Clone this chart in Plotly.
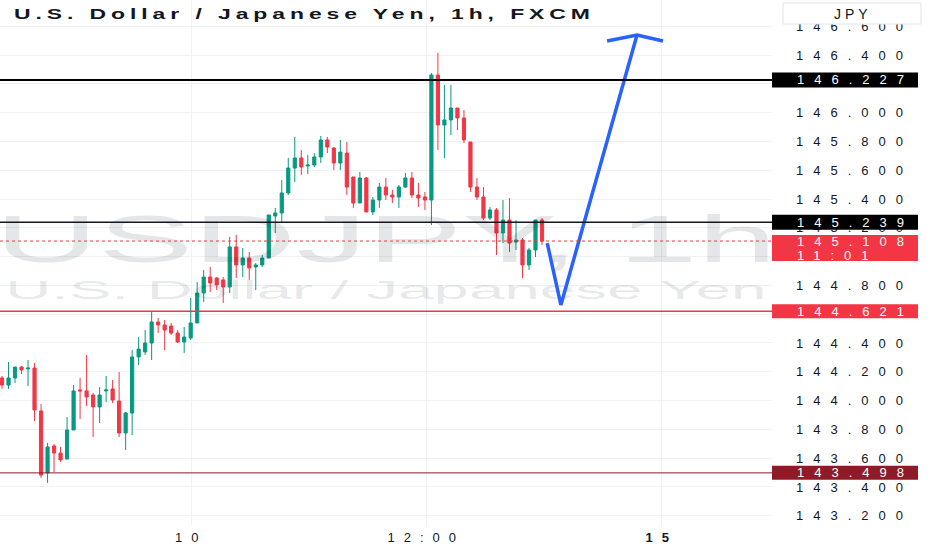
import plotly.graph_objects as go

# ---------------- data ----------------
bar_index = list(range(84))
open_ = [144.157, 144.108, 144.157, 144.233, 144.220, 144.226, 143.928, 143.497, 143.685, 143.636,
         143.594, 143.796, 144.074, 144.067, 144.039, 143.956, 144.067, 144.081, 143.997, 143.775,
         143.914, 144.303, 144.338, 144.400, 144.546, 144.525, 144.518, 144.469, 144.407, 144.435,
         144.539, 144.747, 144.858, 144.851, 144.838, 144.789, 145.067, 144.942, 144.990, 144.928,
         144.942, 144.990, 145.282, 145.303, 145.442, 145.615, 145.685, 145.629, 145.636, 145.692,
         145.810, 145.754, 145.650, 145.719, 145.553, 145.372, 145.546, 145.310, 145.393, 145.483,
         145.428, 145.414, 145.483, 145.546, 145.428, 145.414, 145.393, 146.261, 145.914, 145.949,
         146.032, 145.963, 145.796, 145.483, 145.414, 145.268, 145.324, 145.164, 145.254, 145.101,
         145.115, 144.942, 145.046, 145.254]
high = [144.171, 144.268, 144.233, 144.240, 144.282, 144.261, 143.976, 143.706, 143.699, 143.678,
        143.886, 144.108, 144.157, 144.317, 144.053, 144.094, 144.171, 144.143, 144.199, 143.921,
        144.351, 144.442, 144.490, 144.615, 144.574, 144.560, 144.539, 144.490, 144.511, 144.713,
        144.824, 144.907, 144.928, 144.858, 144.858, 145.136, 145.150, 145.060, 145.032, 144.956,
        145.011, 145.289, 145.338, 145.532, 145.685, 145.831, 145.740, 145.706, 145.719, 145.838,
        145.831, 145.761, 145.810, 145.796, 145.553, 145.588, 145.553, 145.414, 145.511, 145.546,
        145.463, 145.497, 145.581, 145.588, 145.511, 145.449, 146.275, 146.414, 146.192, 146.192,
        146.032, 146.018, 145.796, 145.546, 145.483, 145.344, 145.338, 145.393, 145.407, 145.254,
        145.129, 145.060, 145.254, 145.268]
low = [144.081, 144.081, 144.122, 144.185, 144.101, 143.858, 143.463, 143.428, 143.504, 143.574,
       143.594, 143.796, 143.872, 143.963, 143.747, 143.844, 143.990, 143.983, 143.747, 143.657,
       143.761, 144.247, 144.317, 144.282, 144.469, 144.351, 144.456, 144.400, 144.331, 144.421,
       144.539, 144.685, 144.754, 144.768, 144.678, 144.747, 144.851, 144.858, 144.838, 144.768,
       144.928, 144.990, 145.164, 145.240, 145.428, 145.518, 145.567, 145.574, 145.622, 145.650,
       145.719, 145.601, 145.601, 145.428, 145.338, 145.372, 145.310, 145.289, 145.338, 145.393,
       145.372, 145.338, 145.476, 145.407, 145.344, 145.324, 145.219, 145.740, 145.685, 145.844,
       145.879, 145.789, 145.449, 145.393, 145.254, 145.254, 145.011, 145.094, 145.032, 145.046,
       144.851, 144.907, 144.997, 145.081]
close = [144.108, 144.157, 144.233, 144.213, 144.226, 143.935, 143.483, 143.678, 143.636, 143.588,
         143.796, 144.067, 144.067, 144.025, 143.956, 144.039, 144.074, 144.004, 143.775, 143.914,
         144.303, 144.358, 144.400, 144.546, 144.525, 144.490, 144.469, 144.407, 144.442, 144.539,
         144.747, 144.858, 144.817, 144.803, 144.789, 145.067, 144.942, 144.990, 144.921, 144.942,
         144.990, 145.289, 145.303, 145.442, 145.615, 145.685, 145.622, 145.636, 145.692, 145.810,
         145.761, 145.650, 145.726, 145.483, 145.372, 145.546, 145.310, 145.393, 145.483, 145.428,
         145.414, 145.483, 145.546, 145.428, 145.407, 145.393, 146.261, 145.914, 145.949, 146.032,
         145.963, 145.810, 145.483, 145.414, 145.268, 145.324, 145.164, 145.254, 145.094, 145.115,
         144.942, 145.046, 145.254, 145.108]

# horizontal levels drawn on the chart
level_black_top = 146.227
level_black_mid = 145.239
level_red = 144.621
level_darkred = 143.498
last_price = 145.108
countdown = "11:01"

# hand-drawn forecast path (bar index, price)
path_t = [83.8, 85.9, 97.6]
path_p = [145.094, 144.664, 146.539]
head_t = [93.0, 97.6, 101.6]
head_p = [146.497, 146.539, 146.497]

# axes (labels hidden behind the level tags are left blank, as in the reference)
price_ticks = [143.2, 143.4, 143.6, 143.8, 144.0, 144.2, 144.4, 144.6, 144.8, 145.0,
               145.2, 145.4, 145.6, 145.8, 146.0, 146.2, 146.4, 146.6]
covered_ticks = [144.6, 145.0, 146.2]
price_tick_labels = ["" if v in covered_ticks else f"{v:.3f}" for v in price_ticks]
time_tick_pos = [29.1, 65.2, 101.4]
time_tick_labels = ["10", "12:00", "<b>15</b>"]

title_text = "U.S. Dollar / Japanese Yen, 1h, FXCM"
watermark_big = "USDJPY, 1h"
watermark_small = "U.S. Dollar / Japanese Yen"
currency = "JPY"

# ---------------- styling ----------------
UP = "#089981"
DOWN = "#f23645"
DARKRED = "#8e1b27"
TXT = "#131722"
GRID = "#eff1f5"
FONT = "Liberation Sans"
X_RANGE = [-0.31, 118.35]
Y_RANGE = [143.136, 146.782]
PLOT_W = 772.0
PLOT_H = 525.0

fig = go.Figure()

# watermarks (clipped to the pane)
fig.add_trace(go.Scatter(x=[59.0], y=[145.074], mode="text", text=[watermark_big],
                         textfont=dict(family=FONT, size=66, color="rgba(19,23,34,0.11)"),
                         hoverinfo="skip", showlegend=False))
fig.add_trace(go.Scatter(x=[59.0], y=[144.754], mode="text", text=[watermark_small],
                         textfont=dict(family=FONT, size=26, color="rgba(19,23,34,0.11)"),
                         hoverinfo="skip", showlegend=False))

fig.add_trace(go.Candlestick(
    x=bar_index, open=open_, high=high, low=low, close=close,
    increasing=dict(line=dict(color=UP, width=1), fillcolor=UP),
    decreasing=dict(line=dict(color=DOWN, width=1), fillcolor=DOWN),
    whiskerwidth=0, hoverinfo="skip", showlegend=False))

# forecast arrow
fig.add_trace(go.Scatter(x=path_t + [None] + head_t, y=path_p + [None] + head_p,
                         mode="lines", line=dict(color="#2962ff", width=3.5),
                         hoverinfo="skip", showlegend=False, cliponaxis=False))

shapes = []
for lvl, col, w, dash in [(level_black_top, "#000000", 2, "solid"),
                          (level_black_mid, "#131722", 1.5, "solid"),
                          (level_red, DOWN, 1.5, "solid"),
                          (level_darkred, DARKRED, 1, "solid"),
                          (last_price, DOWN, 1, "dot")]:
    shapes.append(dict(type="line", xref="paper", x0=0, x1=1, yref="y", y0=lvl, y1=lvl,
                       line=dict(color=col, width=w, dash=dash), layer="above"))

box_x0 = 1.0
box_x1 = 918 / PLOT_W
for lvl, col, top, bot in [(level_black_top, "#000000", 7.5, -7.5),
                           (level_black_mid, "#000000", 7.5, -7.5),
                           (last_price, DOWN, 6, -20),
                           (level_red, DOWN, 7, -7),
                           (level_darkred, DARKRED, 7, -7)]:
    shapes.append(dict(type="rect", xref="paper", x0=box_x0, x1=box_x1, yref="y",
                       ysizemode="pixel", yanchor=lvl, y0=bot, y1=top,
                       fillcolor=col, line=dict(width=0), layer="above"))

# currency box
shapes.append(dict(type="rect", xref="paper", yref="paper",
                   x0=783 / PLOT_W, x1=921 / PLOT_W, y0=1 - 24 / PLOT_H, y1=1 - 3 / PLOT_H,
                   fillcolor="white", line=dict(color="#e0e3eb", width=1), layer="above"))

label_x = 795 / PLOT_W
annotations = [
    dict(text=title_text, xref="paper", yref="paper", x=12 / PLOT_W, y=1 - 14 / PLOT_H,
         xanchor="left", yanchor="middle", align="left", showarrow=False,
         font=dict(family=FONT, size=14, color=TXT, weight="bold")),
    dict(text=currency, xref="paper", yref="paper", x=832 / PLOT_W, y=1 - 14 / PLOT_H,
         xanchor="left", yanchor="middle", align="left", showarrow=False,
         font=dict(family=FONT, size=14, color=TXT)),
]
for lvl, txt, shift in [(level_black_top, f"{level_black_top:.3f}", 0),
                        (level_black_mid, f"{level_black_mid:.3f}", 0),
                        (last_price, f"{last_price:.3f}", 0),
                        (last_price, countdown, -14),
                        (level_red, f"{level_red:.3f}", 0),
                        (level_darkred, f"{level_darkred:.3f}", 0)]:
    annotations.append(dict(text=txt, xref="paper", yref="y", x=label_x, y=lvl, yshift=shift,
                            xanchor="left", yanchor="middle", align="left", showarrow=False,
                            font=dict(family=FONT, size=13, color="white")))

fig.update_layout(
    width=932, height=550,
    margin=dict(l=0, r=160, t=0, b=25),
    paper_bgcolor="white", plot_bgcolor="white",
    showlegend=False, hovermode=False, boxgap=0.3,
    shapes=shapes, annotations=annotations,
    xaxis=dict(range=X_RANGE, tickvals=time_tick_pos, ticktext=time_tick_labels,
               showgrid=True, gridcolor=GRID, gridwidth=1, zeroline=False, showline=False,
               ticks="", ticklabelstandoff=3, rangeslider=dict(visible=False),
               tickfont=dict(family=FONT, size=13, color=TXT), fixedrange=True),
    yaxis=dict(range=Y_RANGE, side="right", tickvals=price_ticks, ticktext=price_tick_labels,
               showgrid=True, gridcolor=GRID, gridwidth=1, zeroline=False, showline=False,
               ticks="", ticklabelstandoff=23,
               tickfont=dict(family=FONT, size=13, color=TXT), fixedrange=True),
)

css = (
    "html,body{margin:0;padding:0;overflow:hidden;}"
    "g.ytick text{letter-spacing:10px;}"
    "g.xtick text{letter-spacing:9px;}"
    "g.annotation text{letter-spacing:10px;}"
    "g.annotation[data-index='0'] text{letter-spacing:3px;transform-box:fill-box;transform-origin:left center;transform:scaleX(1.64);}"
    "g.annotation[data-index='1'] text{letter-spacing:4px;}"
    ".scatterlayer .trace:nth-child(1) .textpoint text{transform-box:fill-box;transform-origin:center;transform:scaleX(2.16);}"
    ".scatterlayer .trace:nth-child(2) .textpoint text{transform-box:fill-box;transform-origin:center;transform:scaleX(2.45);}"
)
post = "var s=document.createElement('style');s.textContent=\"" + css + "\";document.head.appendChild(s);"

fig.write_html("out.html", post_script=post, config={"displayModeBar": False})
